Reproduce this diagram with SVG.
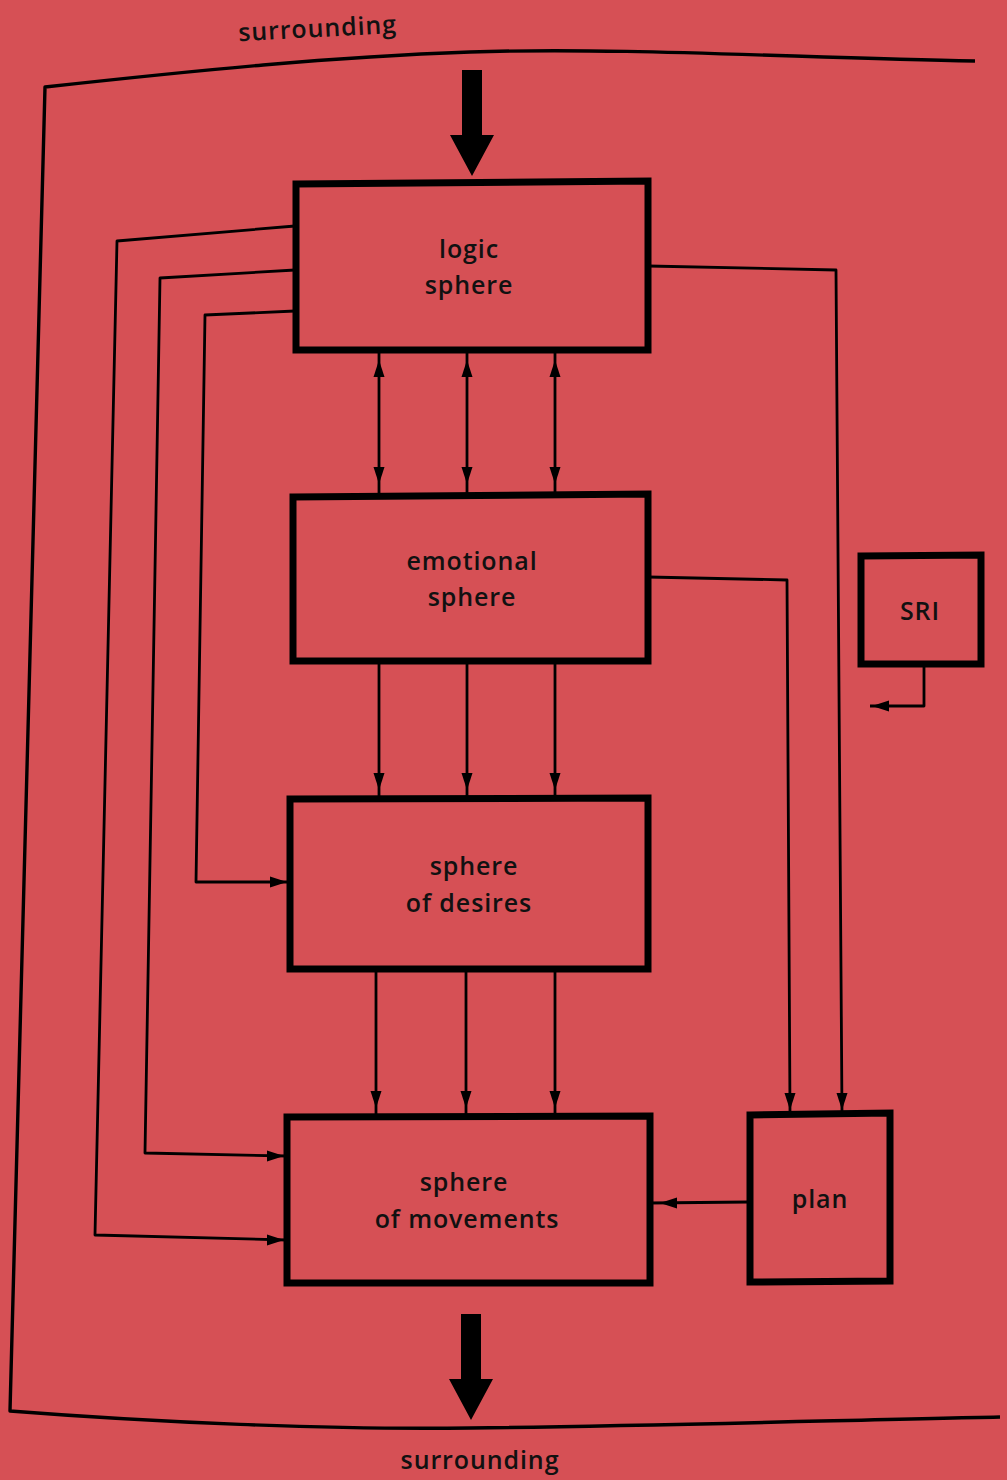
<svg xmlns="http://www.w3.org/2000/svg" width="1007" height="1480" viewBox="0 0 1007 1480">
<style>
.box{fill:none;stroke:#000;stroke-width:7;stroke-linejoin:miter}
.ln{fill:none;stroke:#000;stroke-width:2.8;stroke-linejoin:round}
.frame{fill:none;stroke:#000;stroke-width:3.4;stroke-linejoin:round}
.lbl{font-family:"Open Sans","Noto Sans","Liberation Sans",sans-serif;font-size:25px;font-weight:600;fill:#111;text-anchor:middle;letter-spacing:0.9px}
</style>
<defs>
<path id="ah" d="M0,0 L-5.5,-17 L5.5,-17 Z" fill="#000"/>
<path id="big" d="M-10,0 L10,0 L10,65 L22,65 L0,106 L-22,65 L-10,65 Z" fill="#000"/>
</defs>
<rect width="1007" height="1480" fill="#d65055"/>

<g id="surrounding-frame">
<path class="frame" d="M975,61 C800,58 620,47 470,52 C330,57 200,70 45,87 L10,1411 C150,1422 330,1430 470,1428 C650,1426 850,1420 1000,1417"/>
<text class="lbl" x="318" y="37" font-size="23" transform="rotate(-3 318 37)">surrounding</text>
<text class="lbl" x="480" y="1469">surrounding</text>
<use href="#big" x="472" y="70"/>
<use href="#big" x="471" y="1314"/>
</g>

<g id="connectors">
<!-- logic <-> emotional -->
<line class="ln" x1="379" y1="350" x2="379" y2="494"/>
<line class="ln" x1="467" y1="350" x2="467" y2="494"/>
<line class="ln" x1="555" y1="350" x2="555" y2="494"/>
<use href="#ah" transform="translate(379,360) rotate(180)"/>
<use href="#ah" transform="translate(467,360) rotate(180)"/>
<use href="#ah" transform="translate(555,360) rotate(180)"/>
<use href="#ah" transform="translate(379,484)"/>
<use href="#ah" transform="translate(467,484)"/>
<use href="#ah" transform="translate(555,484)"/>
<!-- emotional -> desires -->
<line class="ln" x1="379" y1="662" x2="379" y2="797"/>
<line class="ln" x1="467" y1="662" x2="467" y2="797"/>
<line class="ln" x1="555" y1="662" x2="555" y2="797"/>
<use href="#ah" transform="translate(379,790)"/>
<use href="#ah" transform="translate(467,790)"/>
<use href="#ah" transform="translate(555,790)"/>
<!-- desires -> movements -->
<line class="ln" x1="376" y1="970" x2="376" y2="1114"/>
<line class="ln" x1="466" y1="970" x2="466" y2="1114"/>
<line class="ln" x1="555" y1="970" x2="555" y2="1114"/>
<use href="#ah" transform="translate(376,1108)"/>
<use href="#ah" transform="translate(466,1108)"/>
<use href="#ah" transform="translate(555,1108)"/>
<!-- logic -> plan -->
<path class="ln" d="M648,266 L836,270 L842,1112"/>
<use href="#ah" transform="translate(842,1110)"/>
<!-- emotional -> plan -->
<path class="ln" d="M648,577 L787,580 L790,1112"/>
<use href="#ah" transform="translate(790,1110)"/>
<!-- plan -> movements -->
<line class="ln" x1="749" y1="1202" x2="650" y2="1203"/>
<use href="#ah" transform="translate(660,1203) rotate(90)"/>
<!-- left loops -->
<path class="ln" d="M295,226 L117,241 L95,1235 L287,1240"/>
<use href="#ah" transform="translate(284,1240) rotate(-90)"/>
<path class="ln" d="M295,270 L160,278 L145,1153 L287,1156"/>
<use href="#ah" transform="translate(284,1156) rotate(-90)"/>
<path class="ln" d="M295,311 L205,315 L196,882 L290,882"/>
<use href="#ah" transform="translate(287,882) rotate(-90)"/>
<!-- SRI output -->
<path class="ln" d="M924,665 L924,706 L870,706"/>
<use href="#ah" transform="translate(872,706) rotate(90)"/>
</g>

<g id="logic-sphere">
<path class="box" d="M296,184 L648,181 L648,350 L296,350 Z"/>
<text class="lbl" x="469" y="258">logic</text>
<text class="lbl" x="469" y="294">sphere</text>
</g>
<g id="emotional-sphere">
<path class="box" d="M293,497 L648,494 L648,661 L293,661 Z"/>
<text class="lbl" x="472" y="570">emotional</text>
<text class="lbl" x="472" y="606">sphere</text>
</g>
<g id="sphere-of-desires">
<path class="box" d="M290,799 L648,798 L648,969 L290,969 Z"/>
<text class="lbl" x="474" y="875">sphere</text>
<text class="lbl" x="469" y="912">of desires</text>
</g>
<g id="sphere-of-movements">
<path class="box" d="M287,1117 L650,1116 L650,1283 L287,1283 Z"/>
<text class="lbl" x="464" y="1191">sphere</text>
<text class="lbl" x="467" y="1228">of movements</text>
</g>
<g id="plan">
<path class="box" d="M750,1115 L890,1113 L890,1281 L750,1282 Z"/>
<text class="lbl" x="820" y="1208">plan</text>
</g>
<g id="SRI">
<path class="box" d="M861,556 L981,555 L981,664 L861,664 Z"/>
<text class="lbl" x="920" y="620">SRI</text>
</g>
</svg>
